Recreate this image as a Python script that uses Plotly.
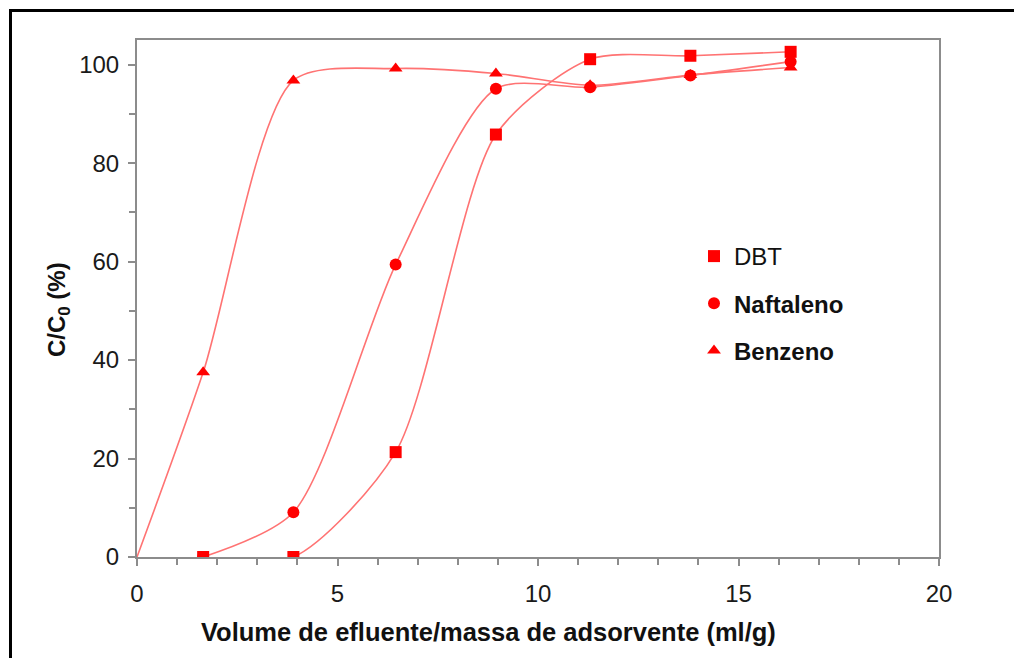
import plotly.graph_objects as go

# Volume of effluent per mass of adsorbent (ml/g) at each sampling point
volume = [1.65, 3.9, 6.45, 8.95, 11.3, 13.8, 16.3]

# Breakthrough curves, C/C0 (%)
dbt = [0.0, 0.0, 21.3, 85.8, 101.1, 101.8, 102.6]
naftaleno = [0.0, 9.1, 59.4, 95.1, 95.4, 97.8, 100.6]
benzeno = [37.5, 96.8, 99.2, 98.2, 95.8, 97.9, 99.4]

# Benzene curve starts from the origin (no marker there)
benzeno_origin_x = [0.0]
benzeno_origin_y = [0.0]

x_ticks = [0, 5, 10, 15, 20]
y_ticks = [0, 20, 40, 60, 80, 100]

MARKER_RED = "#ff0000"
LINE_RED = "#ff7373"
FONT = "Liberation Sans, Arial, sans-serif"
TXT = "#111111"

fig = go.Figure()

curve = dict(shape="spline", smoothing=0.75, color=LINE_RED, width=1.6)

# Smoothed connecting curves
fig.add_trace(go.Scatter(x=volume, y=dbt, mode="lines", line=curve,
                         showlegend=False, hoverinfo="skip"))
fig.add_trace(go.Scatter(x=volume, y=naftaleno, mode="lines", line=curve,
                         showlegend=False, hoverinfo="skip"))
fig.add_trace(go.Scatter(x=benzeno_origin_x + volume, y=benzeno_origin_y + benzeno,
                         mode="lines", line=curve, showlegend=False, hoverinfo="skip"))

# Markers (legend entries)
fig.add_trace(go.Scatter(x=volume, y=naftaleno, mode="markers", name="<b>Naftaleno</b>",
                         legendrank=2, legendgroup="n",
                         marker=dict(symbol="circle", size=12, color=MARKER_RED)))
fig.add_trace(go.Scatter(x=volume, y=dbt, mode="markers", name="DBT",
                         legendrank=1, legendgroup="d",
                         marker=dict(symbol="square", size=12, color=MARKER_RED)))
fig.add_trace(go.Scatter(x=volume, y=benzeno, mode="markers", name="<b>Benzeno</b>",
                         legendrank=3, legendgroup="b",
                         marker=dict(symbol="triangle-up", size=12, color=MARKER_RED)))

L, R, T, B = 137, 75, 40, 101
W, H = 1014, 658
pw, ph = W - L - R, H - T - B


def px_x(p):
    return (p - L) / pw


def px_y(p):
    return (H - B - p) / ph


axis_common = dict(
    showgrid=False, zeroline=False,
    showline=True, linecolor="#8c8c8c", linewidth=2, mirror=True,
    ticks="outside", ticklen=7, tickwidth=1.5, tickcolor="#8c8c8c",
    tickfont=dict(family=FONT, size=24, color="#1a1a1a"),
)

fig.update_xaxes(range=[0, 20], tickvals=x_ticks, ticklabelstandoff=7,
                 minor=dict(dtick=1, ticks="outside", ticklen=6, tickwidth=1.5,
                            tickcolor="#8c8c8c"),
                 **axis_common)
fig.update_yaxes(range=[0, 105], tickvals=y_ticks, ticklabelstandoff=4,
                 minor=dict(dtick=10, ticks="outside", ticklen=6, tickwidth=1.5,
                            tickcolor="#8c8c8c"),
                 **axis_common)

fig.update_layout(
    width=W, height=H,
    margin=dict(l=L, r=R, t=T, b=B, autoexpand=False),
    paper_bgcolor="white", plot_bgcolor="white",
    font=dict(family=FONT, size=24, color=TXT),
    legend=dict(x=px_x(694), y=px_y(234), xanchor="left", yanchor="top",
                bgcolor="rgba(0,0,0,0)", tracegroupgap=13, itemwidth=30,
                font=dict(family=FONT, size=24, color=TXT)),
    annotations=[
        dict(text="<b>Volume de efluente/massa de adsorvente (ml/g)</b>",
             xref="paper", yref="paper", x=px_x(488), y=px_y(632),
             xanchor="center", yanchor="middle", showarrow=False,
             font=dict(family=FONT, size=25.5, color=TXT)),
        dict(text="<b>C/C<sub>0</sub> (%)</b>",
             xref="paper", yref="paper", x=px_x(58), y=px_y(310),
             xanchor="center", yanchor="middle", showarrow=False, textangle=-90,
             font=dict(family=FONT, size=24, color=TXT)),
    ],
    shapes=[
        dict(type="rect", xref="paper", yref="paper",
             x0=px_x(10.5), x1=px_x(1030), y0=px_y(680), y1=px_y(10.5),
             line=dict(color="black", width=3), fillcolor="rgba(0,0,0,0)",
             layer="below"),
    ],
)

fig.write_html("out.html")
